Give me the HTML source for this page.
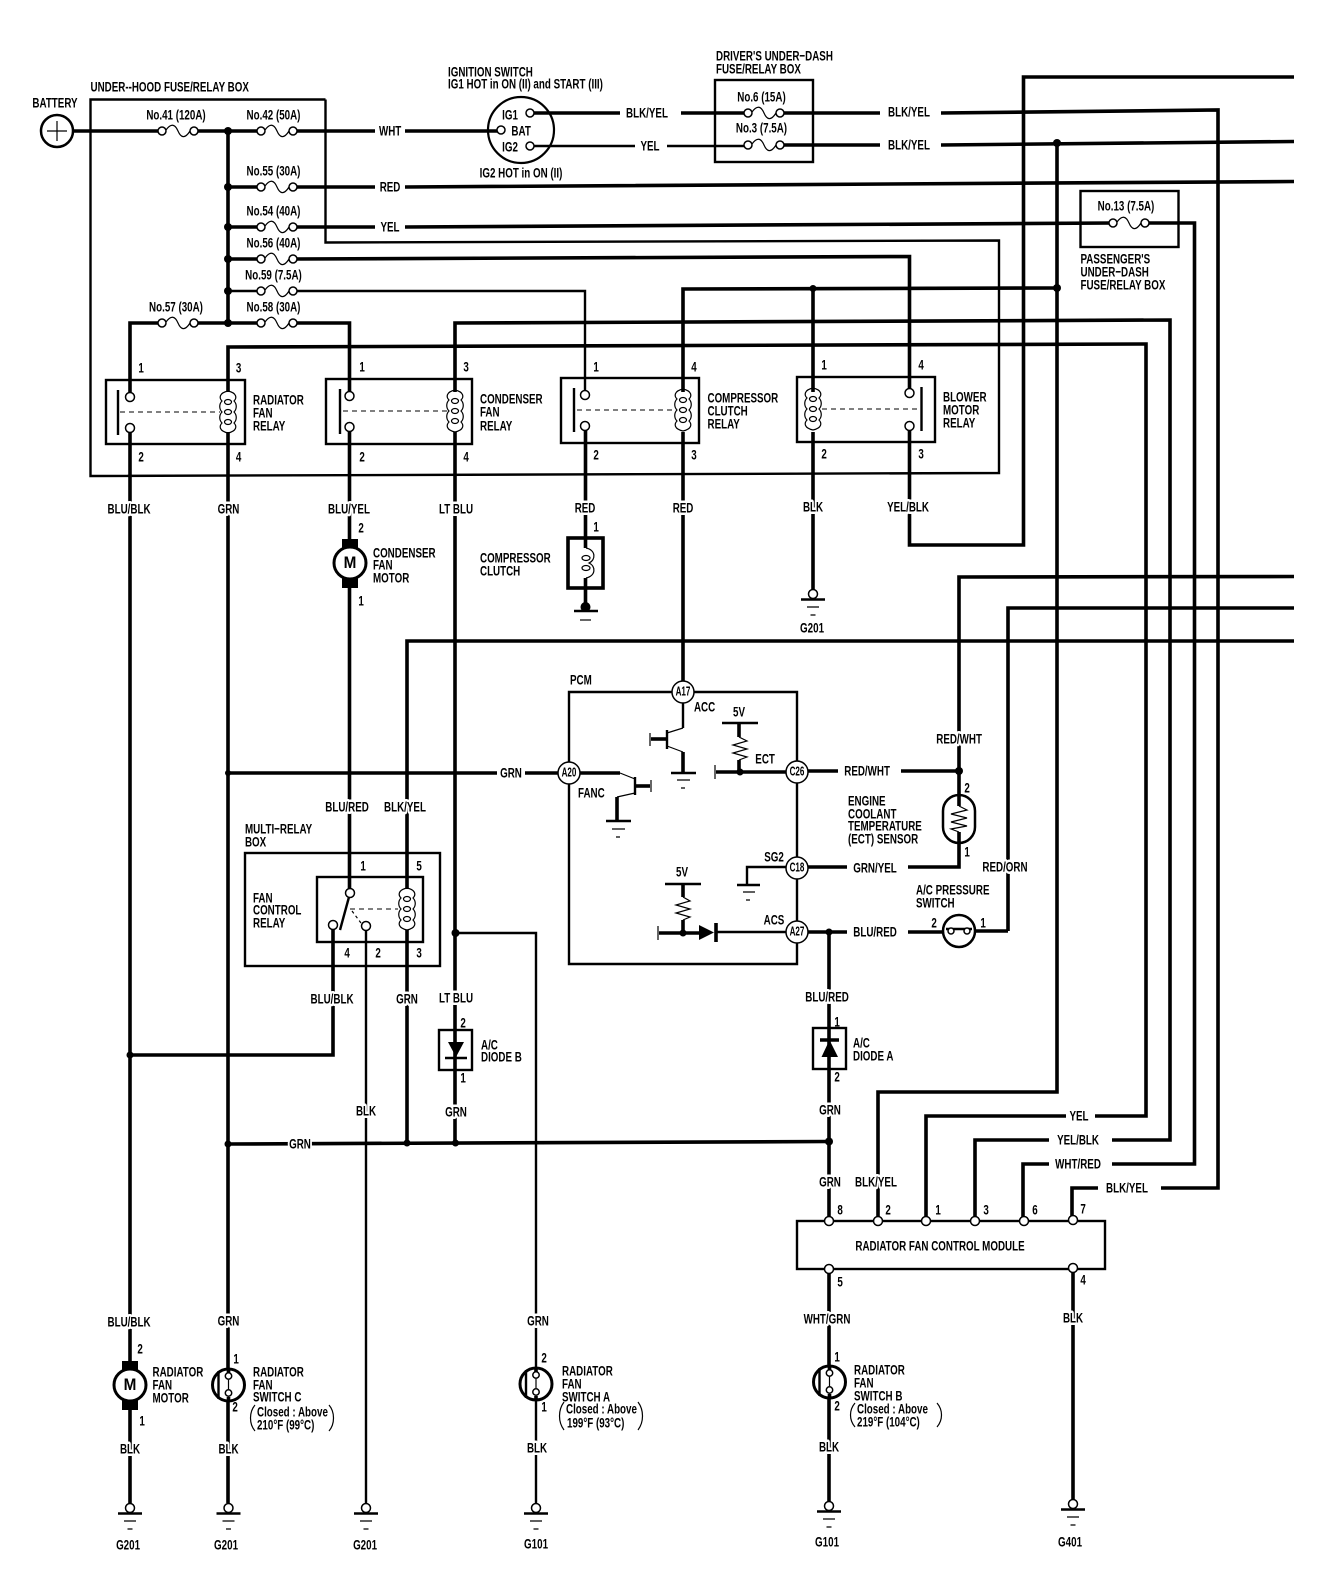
<!DOCTYPE html>
<html><head><meta charset="utf-8"><title>Radiator fan wiring diagram</title>
<style>
html,body{margin:0;padding:0;background:#fff}
svg{display:block}
text{font-family:"Liberation Sans",sans-serif;font-weight:bold;font-size:14px;fill:#000;text-anchor:middle;dominant-baseline:central;transform-box:fill-box;transform-origin:50% 50%;transform:scaleX(.7)}
text.s{text-anchor:start;transform-origin:0 50%}
text.w{paint-order:stroke;stroke:#fff;stroke-width:5px;stroke-linejoin:round}
text.p{font-size:13px;transform:scaleX(.62)}
.t{fill:none;stroke:#000;stroke-width:3.6}
.n{fill:none;stroke:#000;stroke-width:2.4}
.h{fill:none;stroke:#000;stroke-width:1.2}
.d{fill:none;stroke:#000;stroke-width:1;stroke-dasharray:5 4}
.c{fill:#fff;stroke:#000;stroke-width:1.5}
.b{fill:#000;stroke:none}
</style></head><body>
<svg width="1344" height="1578" viewBox="0 0 1344 1578" xmlns="http://www.w3.org/2000/svg">
<defs>
<g id="f"><path class="h" d="M4 -1C9 -8 13 -7 16 0S23 8 28 0" stroke-width="1.6"/><circle class="c" cx="0" cy="0" r="4"/><circle class="c" cx="32" cy="0" r="4"/></g>
<g id="g"><circle class="c" r="4.5"/><path class="n" d="M-12 5.5H12"/><path class="h" d="M-6 13H6M-2.500 21H2.500"/></g>
<g id="coil"><path class="h" d="M0 -21C-9 -19 -9 -14 -6 -11C-9 -8 -9 -3 -6 0C-9 3 -9 8 -6 11C-9 14 -9 19 0 21C9 19 9 14 6 11C9 8 9 3 6 0C9 -3 9 -8 6 -11C9 -14 9 -19 0 -21Z"/><ellipse class="h" cy="-10" rx="3.500" ry="2.500"/><ellipse class="h" cy="0" rx="3.500" ry="2.500"/><ellipse class="h" cy="10" rx="3.500" ry="2.500"/></g>
<g id="sw"><circle r="16" fill="#fff" stroke="#000" stroke-width="3"/><path class="t" d="M0 -16V-12M0 12V16" stroke-width="2.500"/><path class="n" d="M-10 -14V14"/><circle class="c" cy="-9" r="3.200"/><circle class="c" cy="8" r="3.200"/><path class="h" d="M0 -5V4"/></g>
<g id="mot"><rect class="b" x="-8" y="-24" width="16" height="10"/><rect class="b" x="-8" y="15" width="16" height="10"/><circle r="16" fill="#fff" stroke="#000" stroke-width="3"/></g>
</defs>

<!-- boxes -->
<path class="n" d="M325.500 99.500H90.500V476L999 473V240.500L325.500 242.500V99.500"/>
<rect class="n" x="715" y="80" width="98" height="82"/>
<rect class="n" x="1080.500" y="191" width="98" height="56"/>
<rect class="n" x="106" y="380" width="139" height="64"/>
<rect class="n" x="326" y="379" width="146" height="65"/>
<rect class="n" x="561" y="378" width="138" height="65"/>
<rect class="n" x="797" y="377" width="138" height="65"/>
<path class="n" d="M569 692H797V964H569Z"/>
<rect class="n" x="245" y="853" width="195" height="113"/>
<rect class="n" x="317" y="877" width="106" height="65"/>
<rect class="n" x="439" y="1030" width="33" height="40"/>
<rect class="n" x="813" y="1028" width="33" height="41"/>
<rect class="n" x="797" y="1221" width="308" height="48"/>
<rect class="t" x="568" y="538" width="35" height="50" stroke-width="2.800"/>

<!-- top wires -->
<path class="t" d="M72 131H162M195 131H261M293 131H375M405 131H500"/>
<path class="t" d="M228 131V323"/>
<path class="t" d="M228 187H261M293 187H375M405 187L1294 181.500"/>
<path class="t" d="M228 227H261M293 227H375M405 227L1113 223"/>
<path class="t" d="M1145 223H1194.500V1164H1112M1049 1164H1023V1220"/>
<path class="t" d="M228 259H261M293 259L909.500 256.500V393"/>
<path class="n" d="M228 291H261M293 291H585V395"/>
<path class="t" d="M130 395V323H162M195 323H261M293 323H349.500V395"/>
<path class="t" d="M683 392V289L1057 288"/>
<path class="t" d="M813 288V392"/>
<path class="t" d="M228 392V347L1146 344V1116H1095M1066 1116H926V1220"/>
<path class="t" d="M455 392V323L1170 320V1140H1112M1049 1140H975V1220"/>
<path class="t" d="M1294 77H1023.500V545H909.500V426"/>
<path class="t" d="M534 113H620M681 113H746M781 113H880M941 113L1218 110V1188H1161M1098 1188H1072V1220"/>
<path class="n" d="M534 146H635M667 146H746"/>
<path class="t" d="M781 145H880M941 145L1294 141.500"/>
<path class="t" d="M1057 143V1092H878V1220"/>

<!-- verticals below relays -->
<path class="t" d="M130 428V1507"/>
<path class="t" d="M228 432V1503"/>
<path class="t" d="M349.500 428V893"/>
<path class="t" d="M455 432V1143"/>
<path class="t" d="M585.500 428V548M585.500 578V607"/>
<path class="t" d="M683 432V681"/>
<path class="t" d="M813 432V590"/>
<path class="t" d="M959 771V577L1294 576.500"/>
<path class="t" d="M1008 931V608L1294 608"/>
<path class="t" d="M407 889V641L1294 641"/>
<path class="t" d="M407 930V1143"/>
<path class="t" d="M333 925V1055H130"/>
<path class="n" d="M366 926V1507"/>
<path class="n" d="M455 933H536V1503"/>
<path class="t" d="M228 1144L829 1141.500"/>
<path class="t" d="M829 932V1221"/>
<path class="t" d="M829 1269V1506"/>
<path class="t" d="M1073 1269V1500"/>
<path class="t" d="M228 773H497M525 773H558"/>

<!-- PCM internals -->
<path class="t" d="M580 773H620"/><path class="h" d="M620 773L635 779M635 793L617 797"/>
<path class="n" d="M635 777V795"/><path class="t" d="M635 786H650"/><path class="h" d="M651 780V792"/>
<path class="t" d="M617 797V821"/><path class="n" d="M606 821H631"/><path class="h" d="M612 829H625M616 837H620"/>
<path class="n" d="M683 703V728"/><path class="h" d="M683 728L667 733M667 746L683 752"/>
<path class="n" d="M667 730V749"/><path class="t" d="M651 739H667"/><path class="h" d="M650 733V746"/>
<path class="t" d="M683 752V773"/><path class="n" d="M671 773H696"/><path class="h" d="M677 780H690M681 788H685"/>
<path class="n" d="M722 723H758"/><path class="t" d="M739 723V737"/>
<path class="h" d="M739 737L747 741L733 745L747 749L733 753L747 757L739 760" stroke-width="1.500"/>
<path class="t" d="M739 760V772M716 772H786"/><path class="h" d="M715 765V779"/><circle class="b" cx="740" cy="772" r="3.500"/>
<path class="t" d="M808 771H838M901 771H959"/><circle class="b" cx="959" cy="771" r="4"/>
<path class="t" d="M959 771V794M959 843V867H908M847 867H808"/>
<path class="n" d="M786 867H747V885"/><path class="n" d="M737 885H760"/><path class="h" d="M743 892H755M746 900H750"/>
<path class="n" d="M665 884H701"/><path class="t" d="M683 884V897"/>
<path class="h" d="M683 897L690 901L676 905L690 909L676 913L690 917L683 920" stroke-width="1.500"/>
<path class="t" d="M683 920V933M659 933H700"/><path class="h" d="M658 926V940"/><circle class="b" cx="683" cy="933" r="3.500"/>
<path class="b" d="M699 925L714 932.500L699 940Z"/><path class="t" d="M716 923V942"/>
<path class="n" d="M716 932H786"/>
<path class="t" d="M808 932H847M908 932H943M975 931H1008"/><circle class="b" cx="829" cy="932" r="3.500"/>

<!-- ECT sensor, pressure switch -->
<rect x="943" y="795" width="32" height="48" rx="16" ry="16" fill="#fff" stroke="#000" stroke-width="2.500"/>
<path class="t" d="M959 795V806M959 832V843" stroke-width="2.500"/>
<path class="h" d="M959 806L967 810L951 814L967 818L951 822L967 826L951 829L959 832" stroke-width="1.500"/>
<circle cx="959" cy="931" r="16" fill="#fff" stroke="#000" stroke-width="2.500"/>
<path class="n" d="M946 929H972"/><circle class="c" cx="951" cy="931" r="3"/><circle class="c" cx="967" cy="931" r="3"/>

<!-- relay internals -->
<path class="n" d="M118 390V435"/><circle class="c" cx="130" cy="397" r="4.500"/><circle class="c" cx="130" cy="428" r="4.500"/><path class="d" d="M120 412H220"/>
<use href="#coil" x="228" y="412"/>
<path class="n" d="M340 389V434"/><circle class="c" cx="349.500" cy="396" r="4.500"/><circle class="c" cx="349.500" cy="427" r="4.500"/><path class="d" d="M343 411H447"/>
<use href="#coil" x="455" y="411"/>
<path class="n" d="M574 388V432"/><circle class="c" cx="585" cy="395" r="4.500"/><circle class="c" cx="585" cy="426" r="4.500"/><path class="d" d="M577 410H675"/>
<use href="#coil" x="683" y="410"/>
<path class="n" d="M921.500 387V431"/><circle class="c" cx="909.500" cy="393" r="4.500"/><circle class="c" cx="909.500" cy="426" r="4.500"/><path class="d" d="M822 409H917"/>
<use href="#coil" x="813" y="409"/>

<!-- fan control relay -->
<circle class="c" cx="350" cy="893" r="4.500"/><circle class="c" cx="333" cy="925" r="4.500"/><circle class="c" cx="366" cy="926" r="4.500"/>
<path class="n" d="M349 897L340 930"/><path class="d" d="M350 909H398"/><path class="h" d="M352 911L361 923" stroke-dasharray="3 3"/>
<use href="#coil" x="407" y="909"/>

<!-- fuses -->
<use href="#f" x="162" y="131"/><use href="#f" x="261" y="131"/>
<use href="#f" x="261" y="187"/><use href="#f" x="261" y="227"/><use href="#f" x="261" y="259"/><use href="#f" x="261" y="291"/>
<use href="#f" x="162" y="323"/><use href="#f" x="261" y="323"/>
<use href="#f" x="748" y="113"/><use href="#f" x="748" y="145"/><use href="#f" x="1113" y="223"/>

<!-- junctions -->
<circle class="b" cx="228" cy="131" r="4"/><circle class="b" cx="228" cy="187" r="4"/><circle class="b" cx="228" cy="227" r="4"/><circle class="b" cx="228" cy="259" r="4"/><circle class="b" cx="228" cy="291" r="4"/><circle class="b" cx="228" cy="323" r="4"/>
<circle class="b" cx="813" cy="288.500" r="3.500"/><circle class="b" cx="1057" cy="288" r="4"/><circle class="b" cx="1057" cy="143" r="4"/>
<circle class="b" cx="130" cy="1055" r="3.500"/><circle class="b" cx="228" cy="773" r="3"/><circle class="b" cx="455.500" cy="933" r="4"/>
<circle class="b" cx="228" cy="1144" r="3.500"/><circle class="b" cx="407" cy="1143" r="3.500"/><circle class="b" cx="455.500" cy="1143" r="3.500"/><circle class="b" cx="829" cy="1141.500" r="4"/>

<!-- battery, ignition -->
<circle cx="57" cy="131" r="16" fill="#fff" stroke="#000" stroke-width="2.500"/><path class="h" d="M57 121V141M47 131H67"/>
<circle cx="521" cy="130" r="33" fill="none" stroke="#000" stroke-width="2.200"/>
<circle class="c" cx="530" cy="113" r="4"/><circle class="c" cx="501" cy="130" r="4"/><circle class="c" cx="530" cy="146" r="4"/>

<!-- motors, clutch -->
<use href="#mot" x="350" y="563"/><use href="#mot" x="130" y="1385"/>
<text x="350" y="563" style="font-size:17px;transform:scaleX(.9)">M</text>
<text x="130" y="1385" style="font-size:17px;transform:scaleX(.9)">M</text>
<path class="h" d="M586 548C596 550 596 560 589 563C596 566 596 576 586 578" stroke-width="1.500"/>
<ellipse class="h" cx="586" cy="558" rx="4" ry="2.500"/><ellipse class="h" cx="586" cy="568" rx="4" ry="2.500"/>
<path class="n" d="M574 611H598"/><circle class="b" cx="585.500" cy="607" r="5"/><path class="h" d="M580 620H591"/>

<!-- grounds -->
<use href="#g" x="813" y="594"/><use href="#g" x="130" y="1508"/><use href="#g" x="228.500" y="1508"/><use href="#g" x="366" y="1508"/><use href="#g" x="536" y="1508"/><use href="#g" x="829" y="1506"/><use href="#g" x="1073" y="1504"/>

<!-- switches, diodes -->
<use href="#sw" x="228.500" y="1385"/><use href="#sw" x="536" y="1384"/><use href="#sw" x="829.500" y="1382"/>
<path class="b" d="M448 1042H464L456 1057Z"/><path class="n" d="M445 1058H467"/>
<path class="b" d="M821.500 1057H838L829.500 1040Z"/><path class="t" d="M820 1040H839"/>

<!-- PCM pins -->
<circle class="c" cx="683" cy="692" r="11"/><circle class="c" cx="569" cy="773" r="11"/><circle class="c" cx="797" cy="772" r="11"/><circle class="c" cx="797" cy="868" r="11"/><circle class="c" cx="797" cy="932" r="11"/>
<text class="p" x="683" y="692">A17</text><text class="p" x="569" y="773">A20</text><text class="p" x="797" y="772">C26</text><text class="p" x="797" y="868">C18</text><text class="p" x="797" y="932">A27</text>

<!-- module pins -->
<circle class="c" cx="829" cy="1221" r="4.500"/><circle class="c" cx="878" cy="1221" r="4.500"/><circle class="c" cx="926" cy="1221" r="4.500"/><circle class="c" cx="975" cy="1221" r="4.500"/><circle class="c" cx="1024" cy="1221" r="4.500"/><circle class="c" cx="1073" cy="1220" r="4.500"/><circle class="c" cx="829" cy="1269" r="4.500"/><circle class="c" cx="1073" cy="1268" r="4.500"/>

<!-- parens -->
<path class="h" d="M255 1405C249 1412 249 1424 255 1431M329 1405C335 1412 335 1424 329 1431"/>
<path class="h" d="M564 1402C558 1410 558 1422 564 1430M638 1402C644 1410 644 1422 638 1430"/>
<path class="h" d="M855 1403C849 1410 849 1420 855 1427M937 1403C943 1410 943 1420 937 1427"/>

<!-- labels top -->
<text x="55" y="103">BATTERY</text>
<text class="s" x="90.500" y="87">UNDER--HOOD FUSE/RELAY BOX</text>
<text class="s" x="448" y="72">IGNITION SWITCH</text>
<text class="s" x="448" y="84">IG1 HOT in ON (II) and START (III)</text>
<text x="521" y="173">IG2 HOT in ON (II)</text>
<text x="510" y="115">IG1</text><text x="521" y="131">BAT</text><text x="510" y="147">IG2</text>
<text class="w" x="390" y="131">WHT</text><text class="w" x="390" y="187">RED</text><text class="w" x="390" y="227">YEL</text>
<text x="647" y="113">BLK/YEL</text><text x="650" y="146">YEL</text>
<text class="s" x="716" y="56">DRIVER'S UNDER−DASH</text><text class="s" x="716" y="69">FUSE/RELAY BOX</text>
<text x="761.500" y="97">No.6 (15A)</text><text x="761.500" y="128">No.3 (7.5A)</text>
<text x="909" y="112">BLK/YEL</text><text x="909" y="145">BLK/YEL</text>
<text x="1126" y="206">No.13 (7.5A)</text>
<text class="s" x="1080.500" y="259">PASSENGER'S</text><text class="s" x="1080.500" y="272">UNDER−DASH</text><text class="s" x="1080.500" y="285">FUSE/RELAY BOX</text>
<text x="176" y="115">No.41 (120A)</text><text x="273.500" y="115">No.42 (50A)</text>
<text x="273.500" y="171">No.55 (30A)</text><text x="273.500" y="211">No.54 (40A)</text><text x="273.500" y="243">No.56 (40A)</text><text x="273.500" y="275">No.59 (7.5A)</text><text x="273.500" y="307">No.58 (30A)</text><text x="176" y="307">No.57 (30A)</text>

<!-- relay labels -->
<text x="141" y="368">1</text><text x="238.500" y="368">3</text><text x="141" y="457">2</text><text x="238.500" y="457">4</text>
<text x="362" y="367">1</text><text x="466" y="367">3</text><text x="362" y="457">2</text><text x="466" y="457">4</text>
<text x="596" y="367">1</text><text x="694" y="367">4</text><text x="596" y="455">2</text><text x="694" y="455">3</text>
<text x="824" y="365">1</text><text x="921" y="365">4</text><text x="824" y="454">2</text><text x="921" y="454">3</text>
<text class="s" x="253" y="400">RADIATOR</text><text class="s" x="253" y="413">FAN</text><text class="s" x="253" y="426">RELAY</text>
<text class="s" x="480" y="399">CONDENSER</text><text class="s" x="480" y="412">FAN</text><text class="s" x="480" y="426">RELAY</text>
<text class="s" x="707.500" y="398">COMPRESSOR</text><text class="s" x="707.500" y="411">CLUTCH</text><text class="s" x="707.500" y="424">RELAY</text>
<text class="s" x="943" y="397">BLOWER</text><text class="s" x="943" y="410">MOTOR</text><text class="s" x="943" y="423">RELAY</text>
<text class="w" x="129" y="509">BLU/BLK</text><text class="w" x="228.500" y="509">GRN</text><text class="w" x="349" y="509">BLU/YEL</text><text class="w" x="456" y="509">LT BLU</text><text class="w" x="585" y="508">RED</text><text class="w" x="683" y="508">RED</text><text class="w" x="813" y="507">BLK</text><text class="w" x="908" y="507">YEL/BLK</text>

<!-- middle labels -->
<text x="361" y="528">2</text><text x="361" y="601">1</text>
<text class="s" x="373" y="553">CONDENSER</text><text class="s" x="373" y="565">FAN</text><text class="s" x="373" y="578">MOTOR</text>
<text x="596" y="527">1</text>
<text class="s" x="480" y="558">COMPRESSOR</text><text class="s" x="480" y="571">CLUTCH</text>
<text x="812" y="628">G201</text>
<text class="s" x="570" y="680">PCM</text><text class="s" x="694" y="707">ACC</text><text x="739" y="712">5V</text><text x="765" y="759">ECT</text><text class="s" x="578" y="793">FANC</text>
<text x="774" y="857">SG2</text><text x="682" y="872">5V</text><text x="774" y="920">ACS</text>
<text class="w" x="511" y="773">GRN</text>
<text x="867" y="771">RED/WHT</text><text class="w" x="959" y="739">RED/WHT</text><text x="875" y="868">GRN/YEL</text><text x="875" y="932">BLU/RED</text><text class="w" x="1005" y="867">RED/ORN</text>
<text class="s" x="848" y="801">ENGINE</text><text class="s" x="848" y="814">COOLANT</text><text class="s" x="848" y="826">TEMPERATURE</text><text class="s" x="848" y="839">(ECT) SENSOR</text>
<text x="967" y="788">2</text><text x="967" y="852">1</text>
<text class="s" x="916" y="890">A/C PRESSURE</text><text class="s" x="916" y="903">SWITCH</text>
<text x="934" y="923">2</text><text x="983" y="923">1</text>

<text class="s" x="245" y="829">MULTI−RELAY</text><text class="s" x="245" y="842">BOX</text>
<text class="s" x="253" y="898">FAN</text><text class="s" x="253" y="910">CONTROL</text><text class="s" x="253" y="923">RELAY</text>
<text x="363" y="866">1</text><text x="419" y="866">5</text><text x="347" y="953">4</text><text x="378" y="953">2</text><text x="419" y="953">3</text>
<text class="w" x="347" y="807">BLU/RED</text><text class="w" x="405" y="807">BLK/YEL</text>
<text class="w" x="332" y="999">BLU/BLK</text><text class="w" x="407" y="999">GRN</text><text class="w" x="456" y="998">LT BLU</text>
<text x="463" y="1023">2</text><text x="463" y="1078">1</text>
<text class="s" x="481" y="1045">A/C</text><text class="s" x="481" y="1057">DIODE B</text>
<text class="w" x="366" y="1111">BLK</text><text class="w" x="456" y="1112">GRN</text><text class="w" x="300" y="1144">GRN</text>
<text class="w" x="827" y="997">BLU/RED</text><text x="837" y="1022">1</text><text x="837" y="1077">2</text><text class="w" x="830" y="1110">GRN</text>
<text class="s" x="853" y="1043">A/C</text><text class="s" x="853" y="1056">DIODE A</text>

<!-- module labels -->
<text x="1079" y="1116">YEL</text><text x="1078" y="1140">YEL/BLK</text><text x="1078" y="1164">WHT/RED</text><text x="1127" y="1188">BLK/YEL</text>
<text class="w" x="830" y="1182">GRN</text><text class="w" x="876" y="1182">BLK/YEL</text>
<text x="840" y="1210">8</text><text x="888" y="1210">2</text><text x="938" y="1210">1</text><text x="986" y="1210">3</text><text x="1035" y="1210">6</text><text x="1083" y="1209">7</text>
<text x="940" y="1246">RADIATOR FAN CONTROL MODULE</text>
<text x="840" y="1282">5</text><text x="1083" y="1280">4</text>
<text class="w" x="827" y="1319">WHT/GRN</text><text class="w" x="1073" y="1318">BLK</text>

<!-- bottom labels -->
<text class="w" x="129" y="1322">BLU/BLK</text><text x="140" y="1349">2</text><text x="142" y="1421">1</text><text class="w" x="130" y="1449">BLK</text>
<text class="s" x="152.500" y="1372">RADIATOR</text><text class="s" x="152.500" y="1385">FAN</text><text class="s" x="152.500" y="1398">MOTOR</text>
<text class="w" x="228.500" y="1321">GRN</text><text x="236" y="1359">1</text><text x="235" y="1407">2</text><text class="w" x="228.500" y="1449">BLK</text>
<text class="s" x="253" y="1372">RADIATOR</text><text class="s" x="253" y="1385">FAN</text><text class="s" x="253" y="1397">SWITCH C</text><text class="s" x="257" y="1412">Closed : Above</text><text class="s" x="257" y="1425">210°F (99°C)</text>
<text class="w" x="538" y="1321">GRN</text><text x="544" y="1358">2</text><text x="544" y="1407">1</text><text class="w" x="537" y="1448">BLK</text>
<text class="s" x="562" y="1371">RADIATOR</text><text class="s" x="562" y="1384">FAN</text><text class="s" x="562" y="1397">SWITCH A</text><text class="s" x="566" y="1409">Closed : Above</text><text class="s" x="567" y="1423">199°F (93°C)</text>
<text x="837" y="1357">1</text><text x="837" y="1406">2</text><text class="w" x="829" y="1447">BLK</text>
<text class="s" x="854" y="1370">RADIATOR</text><text class="s" x="854" y="1383">FAN</text><text class="s" x="854" y="1396">SWITCH B</text><text class="s" x="857" y="1409">Closed : Above</text><text class="s" x="857" y="1422">219°F (104°C)</text>
<text x="128" y="1545">G201</text><text x="226" y="1545">G201</text><text x="365" y="1545">G201</text><text x="536" y="1544">G101</text><text x="827" y="1542">G101</text><text x="1070" y="1542">G401</text>
</svg>
</body></html>
